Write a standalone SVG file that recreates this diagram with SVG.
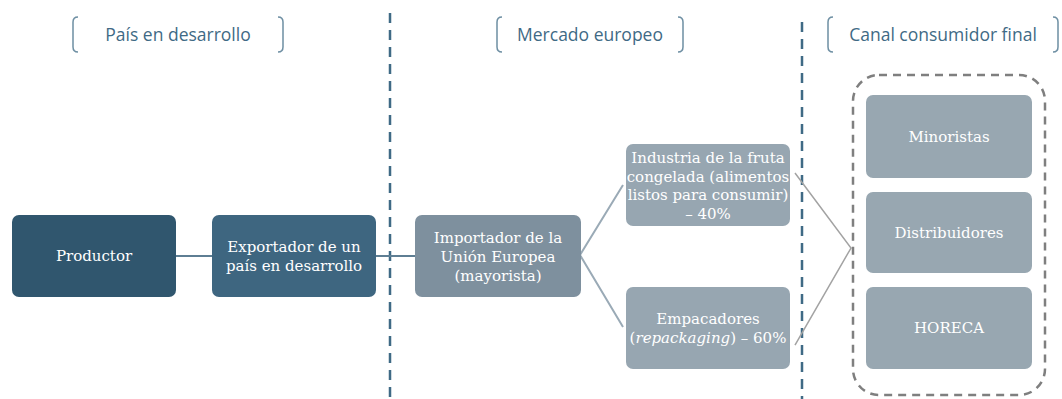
<svg xmlns="http://www.w3.org/2000/svg" width="1062" height="399" viewBox="0 0 1062 399">
<style>
.hdr{font-family:"Open Sans","Liberation Sans",sans-serif;font-size:17.5px;fill:#3F6A85;text-anchor:middle}
.br{fill:none;stroke:#6E8FA3;stroke-width:1.5}
.sep{stroke:#3F6A85;stroke-width:2.5;stroke-dasharray:10 7}
.box text{font-family:"DejaVu Serif","Liberation Serif",serif;font-size:15px;fill:#ffffff;text-anchor:middle}
.c1{stroke:#5E7E93;stroke-width:2;fill:none}
.c2{stroke:#9AAAB6;stroke-width:2;fill:none}
.c3{stroke:#A3A3A3;stroke-width:1.5;fill:none}
</style>
<rect width="1062" height="399" fill="#ffffff"/>
<g id="headers">
<path class="br" d="M78 17 Q73 17 73 22 L73 47 Q73 52 78 52"/>
<path class="br" d="M278 17 Q283 17 283 22 L283 47 Q283 52 278 52"/>
<text class="hdr" x="178" y="41">País en desarrollo</text>
<path class="br" d="M502 17 Q497 17 497 22 L497 47 Q497 52 502 52"/>
<path class="br" d="M678 17 Q683 17 683 22 L683 47 Q683 52 678 52"/>
<text class="hdr" x="590" y="41">Mercado europeo</text>
<path class="br" d="M833 17 Q828 17 828 22 L828 47 Q828 52 833 52"/>
<path class="br" d="M1053 17 Q1058 17 1058 22 L1058 47 Q1058 52 1053 52"/>
<text class="hdr" x="943" y="41">Canal consumidor final</text>
</g>
<g id="separators">
<line class="sep" x1="390" y1="13" x2="390" y2="399"/>
<line class="sep" x1="802" y1="22" x2="802" y2="399"/>
</g>
<g id="connectors">
<line class="c1" x1="176" y1="256" x2="212" y2="256"/>
<line class="c1" x1="376" y1="256" x2="415" y2="256"/>
<polyline class="c2" points="623,185 580,255 623,327"/>
<polyline class="c3" points="795,173 851,248 795,345"/>
</g>
<g id="productor" class="box">
<rect x="12" y="215" width="164" height="82" rx="7" fill="#30566E"/>
<text x="94" y="261">Productor</text>
</g>
<g id="exportador" class="box">
<rect x="212" y="215" width="164" height="82" rx="7" fill="#3E6680"/>
<text x="294" y="252">Exportador de un</text>
<text x="294" y="271">país en desarrollo</text>
</g>
<g id="importador" class="box">
<rect x="415" y="215" width="166" height="82" rx="7" fill="#7E909E"/>
<text x="498" y="243">Importador de la</text>
<text x="498" y="262">Unión Europea</text>
<text x="498" y="281">(mayorista)</text>
</g>
<g id="industria" class="box">
<rect x="626" y="144" width="164" height="82" rx="7" fill="#97A6B1"/>
<text x="708" y="163">Industria de la fruta</text>
<text x="708" y="181.5">congelada (alimentos</text>
<text x="708" y="200">listos para consumir)</text>
<text x="708" y="218.5">– 40%</text>
</g>
<g id="empacadores" class="box">
<rect x="626" y="287" width="164" height="82" rx="7" fill="#97A6B1"/>
<text x="708" y="324">Empacadores</text>
<text x="708" y="343">(<tspan font-style="italic">repackaging</tspan>) – 60%</text>
</g>
<g id="canal">
<rect x="853" y="75" width="192" height="320" rx="26" fill="none" stroke="#7F7F7F" stroke-width="2.5" stroke-dasharray="8 6"/>
</g>
<g id="minoristas" class="box">
<rect x="866" y="95" width="166" height="83" rx="7" fill="#98A7B1"/>
<text x="949" y="142">Minoristas</text>
</g>
<g id="distribuidores" class="box">
<rect x="866" y="192" width="166" height="81" rx="7" fill="#98A7B1"/>
<text x="949" y="238">Distribuidores</text>
</g>
<g id="horeca" class="box">
<rect x="866" y="287" width="166" height="82" rx="7" fill="#98A7B1"/>
<text x="949" y="333">HORECA</text>
</g>
</svg>
